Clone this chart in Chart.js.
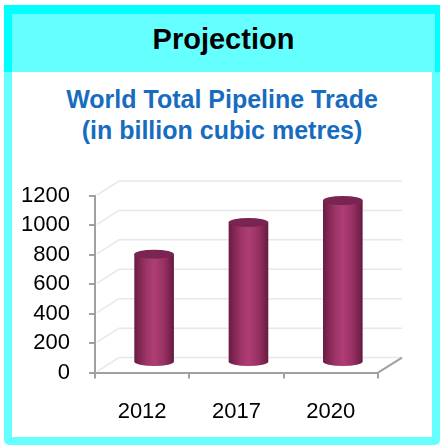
<!DOCTYPE html>
<html>
<head>
<meta charset="utf-8">
<script src="https://cdn.jsdelivr.net/npm/chart.js@4.4.1/dist/chart.umd.min.js"></script>
<style>
  html, body { margin: 0; padding: 0; background: #fff; }
  #page { position: relative; width: 444px; height: 447px; overflow: hidden; font-family: "Liberation Sans", Arial, sans-serif; }
  #frame {
    position: absolute; left: 4px; top: 62px; width: 420px; height: 367px;
    background: #fff; border: 8px solid #66ffff; border-radius: 5px;
  }
  #header {
    position: absolute; left: 4px; top: 5px; width: 423px; height: 58px;
    background: #66ffff; border-top: 9px solid #00ffff; border-left: 8px solid #00ffff; border-right: 5px solid #00ffff;
    text-align: center; font-weight: bold; font-size: 29px; line-height: 50px; color: #000;
  }
  #title {
    position: absolute; left: 0; top: 84px; width: 444px; text-align: center;
    font-weight: bold; font-size: 25px; line-height: 31px; color: #176cbf;
  }
  #wrap { position: absolute; left: 0; top: 0; width: 444px; height: 447px; }
</style>
</head>
<body>
<div id="page">
  <div id="frame"></div>
  <div id="header">Projection</div>
  <div id="title">World Total Pipeline Trade<br>(in billion cubic metres)</div>
  <div id="wrap"><canvas id="chart" width="444" height="447"></canvas></div>
</div>
<script>
// chart data
const years = ['2012', '2017', '2020'];
const pipelineTrade = [730, 945, 1095];
const yTicks = [0, 200, 400, 600, 800, 1000, 1200];

// 3d look
const depthX = 24, depthY = -15;
const axisGray = '#a0a0a0';

const wallPlugin = {
    id: 'wall',
    beforeDatasetsDraw(chart) {
        const c = chart.ctx, y = chart.scales.y;
        const left = chart.chartArea.left, right = chart.chartArea.right;
        c.save();
        c.strokeStyle = '#e8e8e8';
        c.lineWidth = 1.5;
        yTicks.forEach(v => {
            const py = y.getPixelForValue(v);
            c.beginPath();
            c.moveTo(left + 2, py - 1);
            c.lineTo(left + depthX, py + depthY);
            c.lineTo(right + depthX, py + depthY);
            c.stroke();
        });
        // floor edge on the right
        const py0 = y.getPixelForValue(0);
        c.strokeStyle = axisGray;
        c.lineWidth = 2;
        c.beginPath();
        c.moveTo(right, py0);
        c.lineTo(right + depthX, py0 + depthY);
        c.stroke();
        c.restore();
    }
};

const cylinderPlugin = {
    id: 'cylinders',
    afterDatasetsDraw(chart) {
        const c = chart.ctx, y = chart.scales.y;
        const meta = chart.getDatasetMeta(0);
        const dx = depthX / 2, dy = -11;
        c.save();
        meta.data.forEach(bar => {
            const rx = bar.width / 2, ry = 4.5;
            const cx = bar.x + dx;
            const topY = bar.y + dy, botY = y.getPixelForValue(0) + dy;
            const l = cx - rx, r = cx + rx;
            const g = c.createLinearGradient(l, 0, r, 0);
            g.addColorStop(0, '#6a1b43');
            g.addColorStop(0.3, '#9c3466');
            g.addColorStop(0.5, '#ae3e75');
            g.addColorStop(0.75, '#983163');
            g.addColorStop(1, '#661a40');
            c.fillStyle = g;
            c.beginPath();
            c.moveTo(l, topY);
            c.lineTo(l, botY);
            c.ellipse(cx, botY, rx, ry, 0, Math.PI, 0, true);
            c.lineTo(r, topY);
            c.closePath();
            c.fill();
            c.fillStyle = '#7a2451';
            c.beginPath();
            c.ellipse(cx, topY, rx, ry, 0, 0, Math.PI * 2);
            c.fill();
        });
        c.restore();
    }
};

new Chart(document.getElementById('chart'), {
    type: 'bar',
    data: {
        labels: years,
        datasets: [{
            label: 'Pipeline trade',
            data: pipelineTrade,
            backgroundColor: 'rgba(0,0,0,0)',
            categoryPercentage: 1,
            barPercentage: 0.42
        }]
    },
    options: {
        responsive: false,
        animation: false,
        layout: { padding: { left: 2, right: 66, top: 196, bottom: 2 } },
        plugins: {
            legend: { display: false },
            tooltip: { enabled: false },
            title: { display: false }
        },
        scales: {
            x: {
                grid: { drawOnChartArea: false, tickLength: 6, color: axisGray, lineWidth: 2 },
                border: { color: axisGray, width: 2 },
                ticks: { color: '#000', padding: 20, font: { family: 'Liberation Sans', size: 22 } }
            },
            y: {
                min: 0, max: 1200,
                afterBuildTicks: scale => { scale.ticks = yTicks.map(v => ({ value: v })); },
                grid: { drawOnChartArea: false, tickLength: 6, color: axisGray, lineWidth: 2 },
                border: { color: axisGray, width: 2 },
                ticks: {
                    autoSkip: false, color: '#000', padding: 19,
                    font: { family: 'Liberation Sans', size: 22 },
                    callback: v => String(v)
                }
            }
        }
    },
    plugins: [wallPlugin, cylinderPlugin]
});
</script>
</body>
</html>
